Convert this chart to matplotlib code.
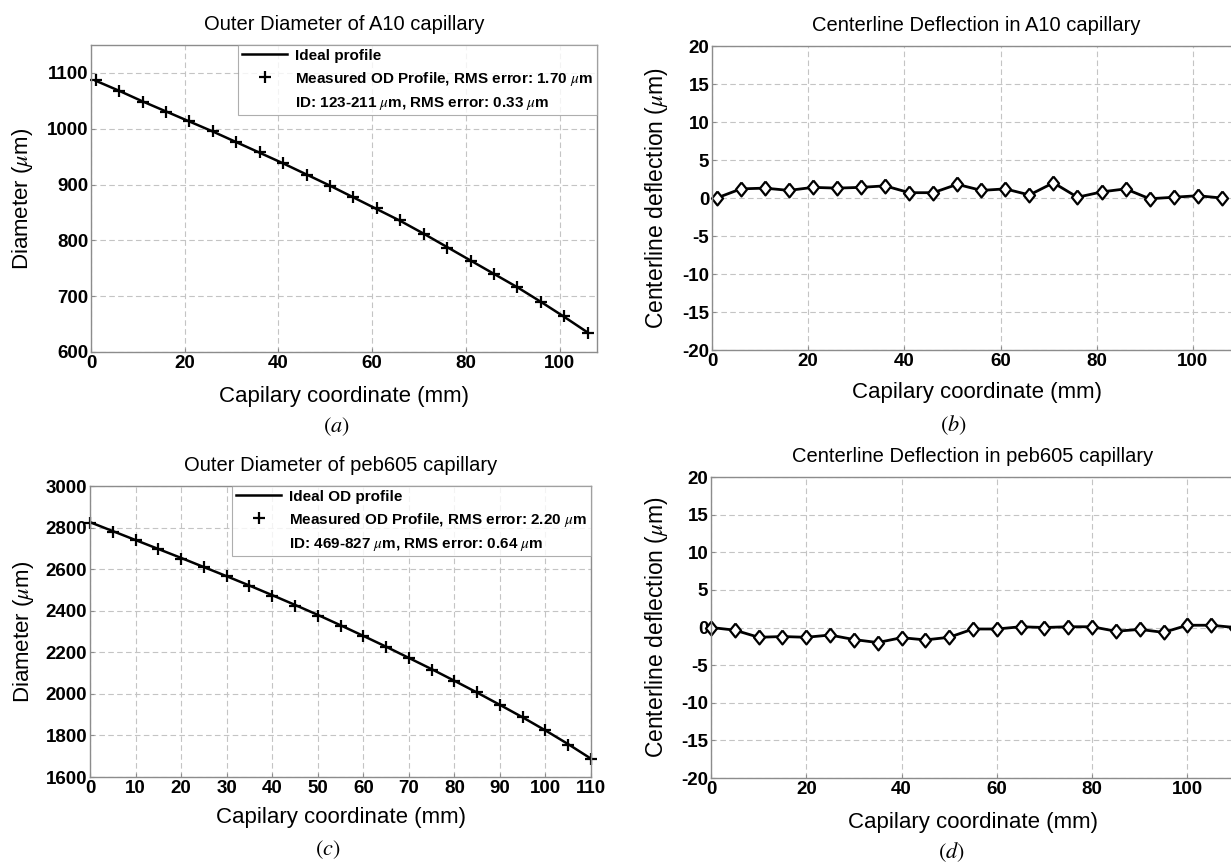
import matplotlib
matplotlib.use("Agg")
import matplotlib.pyplot as plt

# ---- data ----
x_a = [1, 6, 11, 16, 21, 26, 31, 36, 41, 46, 51, 56, 61, 66, 71, 76, 81, 86, 91, 96, 101, 106]
ideal_a = [1086, 1068, 1049, 1031, 1013, 995, 976, 957, 938, 918, 898, 877, 856, 835, 812, 788,
           764, 740, 716, 690, 663, 635]
meas_a = [1087, 1068, 1048, 1030, 1014, 996, 976, 958, 939, 917, 897, 878, 858, 836, 811, 786,
          763, 740, 716, 690, 664, 634]

x_b = [1, 6, 11, 16, 21, 26, 31, 36, 41, 46, 51, 56, 61, 66, 71, 76, 81, 86, 91, 96, 101, 106]
defl_b = [0.0, 1.2, 1.3, 1.0, 1.4, 1.3, 1.4, 1.6, 0.7, 0.7, 1.8, 1.0, 1.2, 0.4, 2.0, 0.1,
          0.8, 1.2, -0.1, 0.1, 0.3, 0.0]

x_c = [0, 5, 10, 15, 20, 25, 30, 35, 40, 45, 50, 55, 60, 65, 70, 75, 80, 85, 90, 95, 100, 105, 110]
ideal_c = [2826, 2783, 2740, 2697, 2654, 2610, 2566, 2521, 2475, 2428, 2380, 2330, 2279, 2227,
           2173, 2119, 2063, 2006, 1947, 1887, 1824, 1758, 1688]
meas_c = [2822, 2779, 2739, 2696, 2651, 2611, 2565, 2517, 2469, 2424, 2376, 2328, 2277, 2224,
          2171, 2117, 2064, 2008, 1944, 1888, 1824, 1755, 1688]

x_d = [0, 5, 10, 15, 20, 25, 30, 35, 40, 45, 50, 55, 60, 65, 70, 75, 80, 85, 90, 95, 100, 105, 110]
defl_d = [0.0, -0.35, -1.3, -1.2, -1.3, -1.0, -1.6, -2.0, -1.35, -1.65, -1.3, -0.2, -0.2, 0.1,
          0.0, 0.1, 0.1, -0.5, -0.25, -0.65, 0.3, 0.3, 0.0]

titles = ["Outer Diameter of A10 capillary", "Centerline Deflection in A10 capillary",
          "Outer Diameter of peb605 capillary", "Centerline Deflection in peb605 capillary"]
captions = ["a", "b", "c", "d"]
legend_a = ["Ideal profile", r"Measured OD Profile, RMS error: 1.70 $\mu$m",
            r"ID: 123-211 $\mu$m, RMS error: 0.33 $\mu$m"]
legend_c = ["Ideal OD profile", r"Measured OD Profile, RMS error: 2.20 $\mu$m",
            r"ID: 469-827 $\mu$m, RMS error: 0.64 $\mu$m"]

plt.rcParams["font.family"] = ["Liberation Sans", "DejaVu Sans"]
plt.rcParams["mathtext.fontset"] = "stix"
plt.rcParams["axes.unicode_minus"] = False

W, H = 1231, 863
fig = plt.figure(figsize=(W / 100, H / 100), dpi=100)

# axes boxes in pixels: left, top, right, bottom (right panels run past the cropped edge)
boxes = [(91, 45, 597, 352), (712, 46, 1241, 350), (90, 486, 591, 777), (711, 477, 1235, 778)]
xlabel_y = [386, 382, 807, 812]
cap_xy = [(336, 427), (953, 425), (328, 850), (951, 852)]
ylabel_x = [35, 670, 36, 670]

axes = []
for (l, t, r, b) in boxes:
    axes.append(fig.add_axes([l / W, 1 - b / H, (r - l) / W, (b - t) / H]))

grid_kw = dict(color="#c4c4c4", linestyle=(0, (5, 3)), linewidth=0.8)
for i, ax in enumerate(axes):
    l, t, r, b = boxes[i]
    for s in ax.spines.values():
        s.set_color("#8c8c8c")
        s.set_linewidth(1.0)
    ax.grid(True, **grid_kw)
    ax.set_axisbelow(True)
    ax.tick_params(direction="in", length=3, color="#8c8c8c", labelsize=13.5, pad=2)
    ax.set_title(titles[i], fontsize=14.5, pad=11)
    ax.set_xlabel("Capilary coordinate (mm)", fontsize=16, va="top")
    ax.xaxis.set_label_coords(0.5, -(xlabel_y[i] - b) / (b - t))
    ax.yaxis.set_label_coords((ylabel_x[i] - l) / (r - l), 0.5)
    cx, cy = cap_xy[i]
    fig.text(cx / W, 1 - cy / H, r"$(" + captions[i] + ")$", fontsize=16, ha="center", va="center")

diamond = [(0, 1), (0.8, 0), (0, -1), (-0.8, 0), (0, 1)]

# (a)
ax = axes[0]
ax.plot(x_a, ideal_a, color="black", lw=1.8, label=legend_a[0])
ax.plot(x_a, meas_a, "+", color="black", ms=8.5, mew=1.6, label=legend_a[1], clip_on=False)
ax.plot([], [], " ", label=legend_a[2])
ax.set_xlim(0, 108)
ax.set_ylim(600, 1150)
ax.set_xticks(range(0, 101, 20))
ax.set_yticks(range(600, 1101, 100))
ax.set_ylabel(r"Diameter ($\mu$m)", fontsize=16)

# (b)
ax = axes[1]
ax.plot(x_b, defl_b, "-", color="black", lw=2, marker=diamond, ms=10, mew=1.6, mfc="white",
        clip_on=False)
ax.set_xlim(0, 110)
ax.set_ylim(-20, 20)
ax.set_xticks(range(0, 101, 20))
ax.set_yticks(range(-20, 21, 5))
ax.set_ylabel(r"Centerline deflection ($\mu$m)", fontsize=16.5)

# (c)
ax = axes[2]
ax.plot(x_c, ideal_c, color="black", lw=1.8, label=legend_c[0])
ax.plot(x_c, meas_c, "+", color="black", ms=8.5, mew=1.6, label=legend_c[1], clip_on=False)
ax.plot([], [], " ", label=legend_c[2])
ax.set_xlim(0, 110)
ax.set_ylim(1600, 3000)
ax.set_xticks(range(0, 111, 10))
ax.set_yticks(range(1600, 3001, 200))
ax.set_ylabel(r"Diameter ($\mu$m)", fontsize=16)

# (d)
ax = axes[3]
ax.plot(x_d, defl_d, "-", color="black", lw=2, marker=diamond, ms=10, mew=1.6, mfc="white",
        clip_on=False)
ax.set_xlim(0, 110)
ax.set_ylim(-20, 20)
ax.set_xticks(range(0, 101, 20))
ax.set_yticks(range(-20, 21, 5))
ax.set_ylabel(r"Centerline deflection ($\mu$m)", fontsize=16.5)

for ax in axes:
    for lab in ax.get_xticklabels() + ax.get_yticklabels():
        lab.set_fontweight("bold")

for ax in (axes[0], axes[2]):
    leg = ax.legend(loc="upper right", prop=dict(weight="bold", size=11), frameon=True,
                    fancybox=False, borderaxespad=0, handlelength=3.0, handletextpad=0.5,
                    labelspacing=0.45, borderpad=0.25)
    leg.get_frame().set_edgecolor("#9a9a9a")
    leg.get_frame().set_linewidth(0.8)

fig.savefig("out.png", dpi=100)
